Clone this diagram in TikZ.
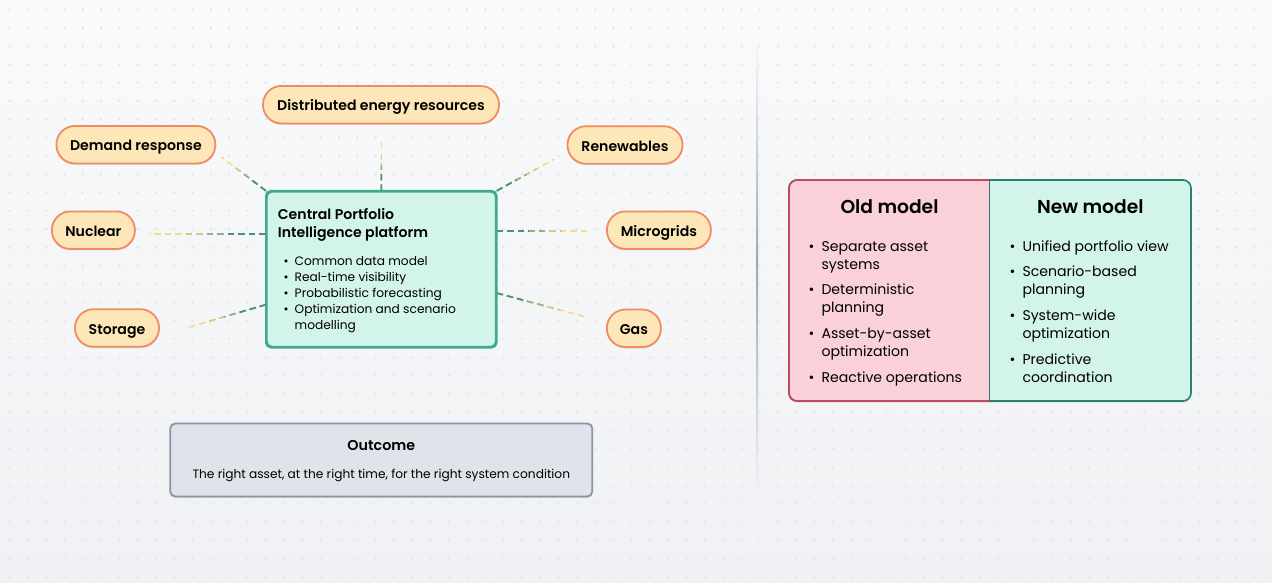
\documentclass[tikz,border=0pt]{standalone}
\usepackage{fontspec}
\setmainfont{Poppins}[BoldFont={Poppins SemiBold}]
\usetikzlibrary{calc,shadows}
\definecolor{bgA}{HTML}{F9FAFB}
\definecolor{bgB}{HTML}{F0F1F4}
\definecolor{dotc}{HTML}{E3E5EB}
\definecolor{sepc}{HTML}{9EA6B6}
\definecolor{pillfill}{HTML}{FDE7B9}
\definecolor{pillline}{HTML}{F28B63}
\definecolor{hubfill}{HTML}{D3F4E9}
\definecolor{hubline}{HTML}{3FA890}
\definecolor{outfill}{HTML}{E0E3E9}
\definecolor{outline}{HTML}{8A94A8}
\definecolor{oldfill}{HTML}{FAD1D9}
\definecolor{oldline}{HTML}{C6455F}
\definecolor{newfill}{HTML}{D3F4E9}
\definecolor{newline}{HTML}{2E7D72}
\definecolor{lkA}{HTML}{F4DA8C}
\definecolor{lkB}{HTML}{CFCB88}
\definecolor{lkC}{HTML}{93B089}
\definecolor{lkD}{HTML}{4A8F7F}
\newcommand\gradlink[2]{%
  \draw[link,lkA] (#1) -- (#2);
  \draw[link,lkB] (#1) -- ($(#1)!0.70!(#2)$);
  \draw[link,lkC] (#1) -- ($(#1)!0.52!(#2)$);
  \draw[link,lkD] (#1) -- ($(#1)!0.34!(#2)$);
}
\begin{document}
\begin{tikzpicture}[x=1pt,y=-1pt,
  shad/.style={drop shadow={shadow xshift=0pt,shadow yshift=-1.5pt,opacity=0.10,fill=black}},
  pill/.style={draw=pillline,fill=pillfill,line width=1.8pt,rounded corners=18.5pt,
    minimum height=37.5pt,inner sep=0pt,text=black,shad,text height=12.5pt,text depth=0pt,
    font=\fontsize{14.1}{16}\selectfont\bfseries},
  hubbox/.style={draw=hubline,fill=hubfill,line width=1.8pt,rounded corners=5pt,
    minimum width=229pt,minimum height=155pt,inner sep=0pt,shad},
  outbox/.style={draw=outline,fill=outfill,line width=1.8pt,rounded corners=5pt,
    minimum width=422pt,minimum height=73pt,inner sep=0pt,shad},
  link/.style={line width=1.6pt,dash pattern=on 6.5pt off 4pt},
  txt/.style={inner sep=0pt,text=black},
  boldtxt/.style={txt,font=\fontsize{14.1}{18}\selectfont\bfseries},
  outhead/.style={txt,font=\fontsize{14.3}{18}\selectfont\bfseries},
  smalltxt/.style={txt,font=\fontsize{12.2}{16}\selectfont},
  itemtxt/.style={txt,font=\fontsize{14.1}{18}\selectfont},
  headtxt/.style={txt,font=\fontsize{18.7}{22}\selectfont\bfseries}
]
\useasboundingbox (0,0) rectangle (1272,583);
\shade[top color=bgA,bottom color=bgB] (0,0) rectangle (1272,583);
\foreach \i in {0,...,69}{\foreach \j in {0,...,31}{
  \fill[dotc] ({9.5+\i*18.3},{9.5+\j*18.3}) circle[radius=1.3pt];}}
\shade[top color=bgA,bottom color=bgB,middle color=sepc] (756.5,38) rectangle (758,490);

% hub
\node[hubbox] (hub) at (381.3,269.2) {};

% pills
\node[pill,minimum width=236pt] (der) at (381,104.7) {Distributed energy resources};
\node[pill,minimum width=159pt] (dr) at (135.9,144.7) {Demand response};
\node[pill,minimum width=115pt] (ren) at (625,145) {Renewables};
\node[pill,minimum width=83pt] (nuc) at (93.4,230.2) {Nuclear};
\node[pill,minimum width=104pt] (mic) at (658.9,230.2) {Microgrids};
\node[pill,minimum width=84pt] (sto) at (117,328) {Storage};
\node[pill,minimum width=54pt] (gas) at (633.9,328.3) {Gas};

% connector free ends
\coordinate (drE) at (221.7,157.3);
\coordinate (derE) at (381.3,141.7);
\coordinate (renE) at (554,159.3);
\coordinate (nucE) at (150,234);
\coordinate (micE) at (590,231);
\coordinate (stoE) at (185,328.3);
\coordinate (gasE) at (587.3,317.3);
% connector box ends
\coordinate (drB) at (hub.north west);
\coordinate (derB) at (hub.north);
\coordinate (renB) at (hub.north east);
\coordinate (nucB) at (hub.west |- nucE);
\coordinate (micB) at (hub.east |- micE);
\coordinate (stoB) at ($(hub.north west)!0.726!(hub.south west)$);
\coordinate (gasB) at ($(hub.north east)!0.652!(hub.south east)$);
\gradlink{drB}{drE}
\gradlink{derB}{derE}
\gradlink{renB}{renE}
\gradlink{nucB}{nucE}
\gradlink{micB}{micE}
\gradlink{stoB}{stoE}
\gradlink{gasB}{gasE}
\draw[hubline,line width=1.8pt,rounded corners=5pt] (hub.north west) rectangle (hub.south east);

\node[boldtxt,anchor=base west] (hubtitle) at (277.7,219.8)
  {\begin{tabular}[t]{@{}l@{}}Central Portfolio\\Intelligence platform\end{tabular}};
\node[smalltxt,anchor=base west] (hublist) at (283.5,265.7)
  {\begin{tabular}[t]{@{}l@{\hspace{6pt}}l@{}}
  • & Common data model\\
  • & Real-time visibility\\
  • & Probabilistic forecasting\\
  • & Optimization and scenario\\
    & modelling\end{tabular}};

% outcome
\node[outbox] (outcome) at (381.3,460) {};
\node[outhead,anchor=base] (outtitle) at (381.3,450.7) {Outcome};
\node[smalltxt,anchor=base] (outsub) at (381.3,478.3) {The right asset, at the right time, for the right system condition};

% comparison
\path[fill=newfill,rounded corners=8pt,shad] (789,180) rectangle (1191,401);
\begin{scope}
  \clip[rounded corners=8pt] (789,180) rectangle (1191,401);
  \fill[oldfill] (780,170) rectangle (989.5,410);
\end{scope}
\draw[newline,line width=1.6pt,rounded corners=8pt] (789,180) rectangle (1191,401);
\begin{scope}
  \clip (780,170) rectangle (989.5,410);
  \draw[oldline,line width=1.6pt,rounded corners=8pt] (789,180) rectangle (1191,401);
\end{scope}
\draw[newline,line width=1.6pt] (989.5,180) -- (989.5,401);

\node[headtxt,anchor=base] (oldhead) at (889.5,213.3) {Old model};
\node[headtxt,anchor=base] (newhead) at (1090.3,213.3) {New model};

\node[itemtxt,anchor=base west] (o1) at (808.5,251.7)
  {\begin{tabular}[t]{@{}l@{\hspace{7pt}}l@{}}• & Separate asset\\ & systems\end{tabular}};
\node[itemtxt,anchor=base west] (o2) at (808.5,294.5)
  {\begin{tabular}[t]{@{}l@{\hspace{7pt}}l@{}}• & Deterministic\\ & planning\end{tabular}};
\node[itemtxt,anchor=base west] (o3) at (808.5,338.3)
  {\begin{tabular}[t]{@{}l@{\hspace{7pt}}l@{}}• & Asset-by-asset\\ & optimization\end{tabular}};
\node[itemtxt,anchor=base west] (o4) at (808.5,382.3)
  {\begin{tabular}[t]{@{}l@{\hspace{7pt}}l@{}}• & Reactive operations\end{tabular}};

\node[itemtxt,anchor=base west] (n1) at (1009.5,251.7)
  {\begin{tabular}[t]{@{}l@{\hspace{7pt}}l@{}}• & Unified portfolio view\end{tabular}};
\node[itemtxt,anchor=base west] (n2) at (1009.5,276.7)
  {\begin{tabular}[t]{@{}l@{\hspace{7pt}}l@{}}• & Scenario-based\\ & planning\end{tabular}};
\node[itemtxt,anchor=base west] (n3) at (1009.5,320.7)
  {\begin{tabular}[t]{@{}l@{\hspace{7pt}}l@{}}• & System-wide\\ & optimization\end{tabular}};
\node[itemtxt,anchor=base west] (n4) at (1009.5,364.3)
  {\begin{tabular}[t]{@{}l@{\hspace{7pt}}l@{}}• & Predictive\\ & coordination\end{tabular}};
\end{tikzpicture}
\end{document}
